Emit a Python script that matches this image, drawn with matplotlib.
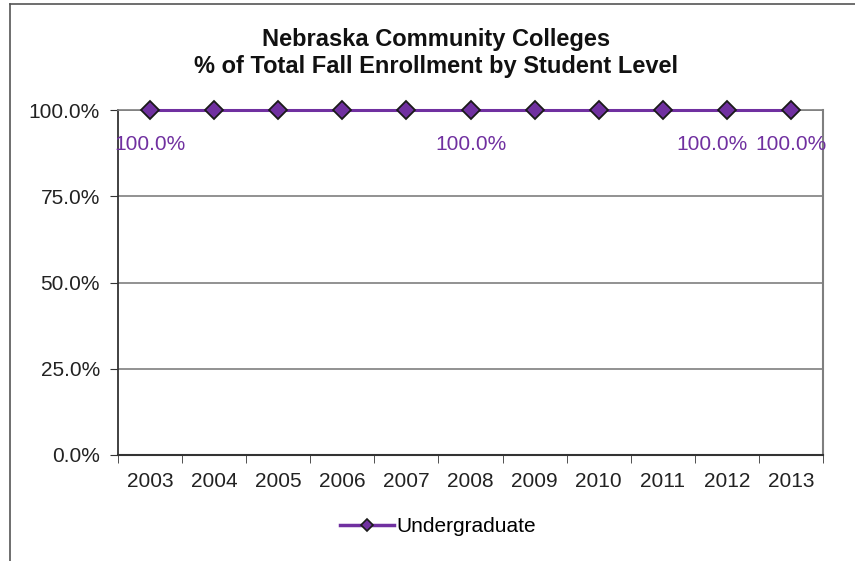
import matplotlib.pyplot as plt
from matplotlib.lines import Line2D
from matplotlib.ticker import FixedLocator, NullFormatter

plt.rcParams['font.family'] = ['Liberation Sans', 'DejaVu Sans']

years = ['2003', '2004', '2005', '2006', '2007', '2008', '2009', '2010', '2011', '2012', '2013']
undergrad = [100.0, 100.0, 100.0, 100.0, 100.0, 100.0, 100.0, 100.0, 100.0, 100.0, 100.0]
labeled_years = ['2003', '2008', '2012', '2013']
yticks = [0, 25, 50, 75, 100]

purple = '#7030A0'
W, H = 855, 561
fig = plt.figure(figsize=(W / 100, H / 100), dpi=100)
ax = fig.add_axes([118 / W, 1 - 455 / H, (823 - 118) / W, (455 - 110) / H])

x = list(range(len(years)))
ax.plot(x, undergrad, color=purple, lw=2.2, marker='D', ms=9,
        mfc=purple, mec='#1a1a1a', mew=1.3, zorder=5, clip_on=False)

for i, (yr, v) in enumerate(zip(years, undergrad)):
    if yr in labeled_years:
        # labels of neighbouring points get nudged apart like excel does
        crowded = i + 1 < len(years) and years[i + 1] in labeled_years
        dx = -11 if crowded else 0
        ax.annotate(f'{v:.1f}%', (i, v), xytext=(dx, -25), textcoords='offset points',
                    ha='center', va='center', color=purple, fontsize=15)

ax.set_xlim(-0.5, len(years) - 0.5)
ax.set_ylim(0, 100)
ax.set_yticks(yticks)
ax.set_yticklabels([f'{t:.1f}%' for t in yticks], fontsize=15, color='#222222')
ax.set_xticks(x)
ax.set_xticklabels(years, fontsize=15, color='#222222')
ax.tick_params(axis='x', which='major', length=0, pad=12)
ax.xaxis.set_minor_locator(FixedLocator([i - 0.5 for i in range(len(years) + 1)]))
ax.xaxis.set_minor_formatter(NullFormatter())
ax.tick_params(axis='x', which='minor', length=6, color='#333333', direction='out')
ax.tick_params(axis='y', length=6, color='#333333', direction='out', pad=7)

ax.grid(axis='y', color='#7f7f7f', lw=1.2)
ax.set_axisbelow(True)
ax.spines['left'].set_color('#333333')
ax.spines['bottom'].set_color('#333333')
ax.spines['left'].set_linewidth(1.3)
ax.spines['bottom'].set_linewidth(1.5)
ax.spines['right'].set_color('#7f7f7f')
ax.spines['right'].set_linewidth(1.5)
ax.spines['top'].set_color('#7f7f7f')
ax.spines['top'].set_linewidth(1.2)

fig.text(436 / W, 1 - 53 / H, 'Nebraska Community Colleges\n% of Total Fall Enrollment by Student Level',
         ha='center', va='center', fontsize=17, fontweight='bold', color='#111111', linespacing=1.2)

legend_handle = Line2D([], [], color=purple, lw=2.5, marker='D', ms=6,
                       mfc=purple, mec='#1a1a1a', mew=1.2)
fig.legend([legend_handle], ['Undergraduate'], loc='center', bbox_to_anchor=(438 / W, 1 - 527 / H),
           frameon=False, fontsize=15, handlelength=2.6, handletextpad=0.1)

# outer chart frame
fig.add_artist(Line2D([10 / W, 10 / W], [0, 1 - 4 / H], color='#555555', lw=1.2))
fig.add_artist(Line2D([10 / W, 1], [1 - 4 / H, 1 - 4 / H], color='#555555', lw=1.2))

fig.savefig('out.png', dpi=100)
